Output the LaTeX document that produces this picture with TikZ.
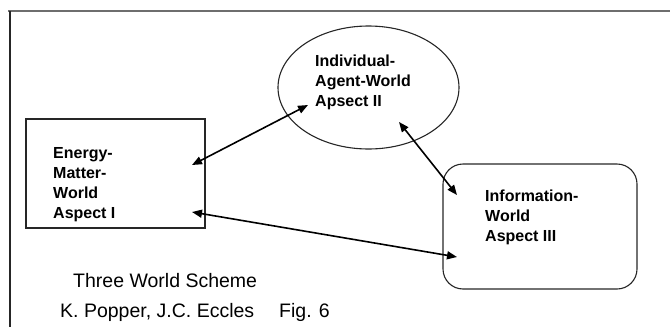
\documentclass[tikz,border=0pt]{standalone}
\usepackage{fontspec}
\setmainfont{Liberation Sans}
\usepackage{tikz}
\usetikzlibrary{shapes.geometric,arrows.meta,calc}
\definecolor{framegray}{RGB}{110,110,110}
\tikzset{
  world/.style={draw=black!85, line width=1.1pt, inner sep=0pt},
  worldtext/.style={font=\bfseries\fontsize{16}{20}\selectfont, align=left, anchor=north west, inner sep=0pt},
  captext/.style={font=\fontsize{19.5}{23}\selectfont, anchor=north west, inner sep=0pt},
  link/.style={line width=1.6pt, {Triangle[length=10pt,width=8pt]}-{Triangle[length=10pt,width=8pt]}}
}

\begin{document}
\begin{tikzpicture}[x=1pt,y=-1pt]
    \useasboundingbox (0,0) rectangle (670,327);
    % frame
    \draw[framegray, line width=2pt] (8,11) -- (670,11);
    \draw[black!85, line width=1.3pt] (10,11) -- (10,327);
    % the three worlds
    \node[world, rectangle, minimum width=179pt, minimum height=109pt] (matter) at (115.5,173.5) {};
    \node[world, ellipse, minimum width=181pt, minimum height=123pt] (agent) at (368.5,87.5) {};
    \node[world, rectangle, rounded corners=20pt, minimum width=194pt, minimum height=125pt] (info) at (540,226.5) {};
    \node[worldtext] (mattertext) at (53,147) {Energy-\\Matter-\\World\\Aspect I};
    \node[worldtext] (agenttext) at (315,55) {Individual-\\Agent-World\\Apsect II};
    \node[worldtext] (infotext) at (485,190) {Information-\\World\\Aspect III};
    % arrow ends inside the shapes
    \coordinate (m1) at ($(matter.center)+(76.5,-8.5)$);
    \coordinate (m2) at ($(matter.center)+(76.5,38.5)$);
    \coordinate (a1) at ($(agent.center)+(-60.5,17.5)$);
    \coordinate (a2) at ($(agent.center)+(30.5,34.5)$);
    \coordinate (i1) at ($(info.center)+(-83,-31.5)$);
    \coordinate (i2) at ($(info.center)+(-83,30.5)$);
    \draw[link] (m1) -- (a1);
    \draw[link] (a2) -- (i1);
    \draw[link] (m2) -- (i2);
    % caption
    \node[captext] (title) at (73,273) {Three World Scheme};
    \node[captext] (source) at (60,303) {K. Popper, J.C. Eccles\hspace{25pt}Fig. 6};
\end{tikzpicture}
\end{document}
